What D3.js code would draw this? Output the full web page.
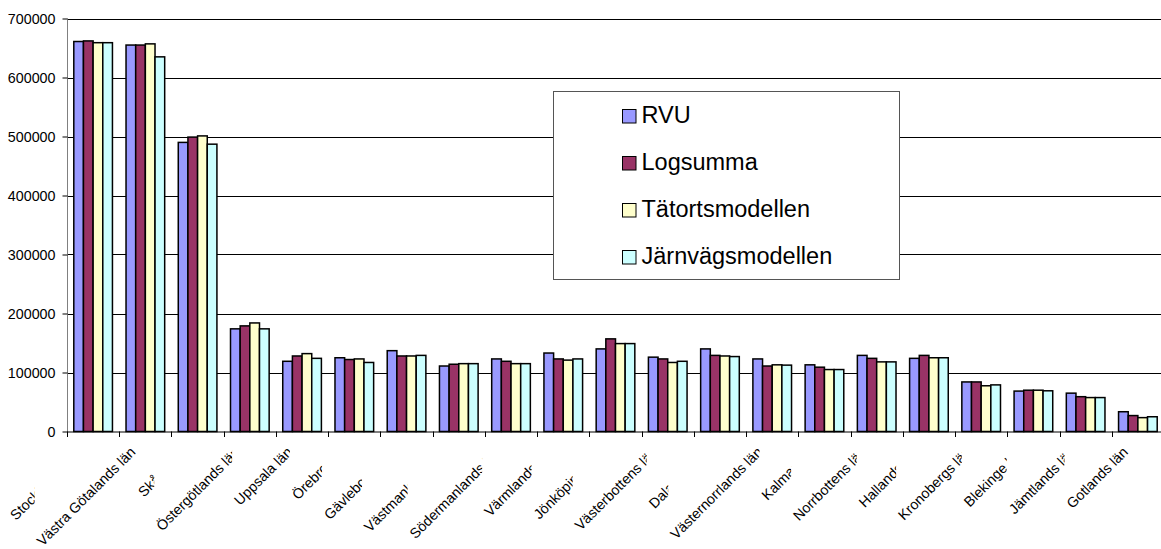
<!DOCTYPE html>
<html>
<head>
<meta charset="utf-8">
<script src="https://cdn.jsdelivr.net/npm/d3@7"></script>
<style>
  html, body { margin: 0; padding: 0; background: #fff; }
  svg { display: block; font-family: "Liberation Sans", Arial, sans-serif; }
</style>
</head>
<body>
<svg id="chart" width="1161" height="549"></svg>
<script>
const categories = ["Stockholms län", "Västra Götalands län", "Skåne län", "Östergötlands län", "Uppsala län",
  "Örebro län", "Gävleborgs län", "Västmanlands län", "Södermanlands län", "Värmlands län",
  "Jönköpings län", "Västerbottens län", "Dalarnas län", "Västernorrlands län", "Kalmar län",
  "Norrbottens län", "Hallands län", "Kronobergs län", "Blekinge län", "Jämtlands län", "Gotlands län"];
const seriesNames = ["RVU", "Logsumma", "Tätortsmodellen", "Järnvägsmodellen"];
const rvu      = [661000, 655000, 490000, 174000, 119000, 125000, 137000, 111000, 123000, 133000, 140000, 126000, 140000, 123000, 113000, 129000, 124000, 84000, 68500, 65000, 33500];
const logsumma = [662000, 655000, 499000, 179000, 128000, 122000, 128000, 114000, 119000, 123000, 157000, 123000, 129000, 111000, 109000, 124000, 129000, 84000, 70000, 59000, 27000];
const tatort   = [659000, 657000, 501000, 184000, 132000, 123000, 128000, 115000, 115000, 121000, 149000, 117000, 128000, 113000, 105000, 118000, 125000, 77500, 70000, 57500, 23500];
const jarnvag  = [659000, 635000, 487000, 174000, 124000, 117000, 129000, 115000, 115000, 123000, 149000, 119000, 127000, 112500, 105000, 118000, 125000, 79000, 69000, 57500, 25000];
const yTicks = [0, 100000, 200000, 300000, 400000, 500000, 600000, 700000];

const seriesValues = [rvu, logsumma, tatort, jarnvag];
const colors = ["#9999FF", "#993366", "#FFFFCC", "#CCFFFF"];

(function () {
const svg = d3.select("#chart");
const pLeft = 67, pRight = 1164, pTop = 18.5, pBottom = 431.5;

const x0 = d3.scaleBand().domain(categories).range([pLeft, pRight]).paddingInner(0.26).paddingOuter(0.13);
const x1 = d3.scaleBand().domain(seriesNames).range([0, x0.bandwidth()]);
const y = d3.scaleLinear().domain([0, 700000]).range([pBottom, pTop]);

// gridlines
svg.append("g").selectAll("line").data(yTicks.filter(d => d > 0)).join("line")
  .attr("x1", pLeft).attr("x2", 1161)
  .attr("y1", d => Math.round(y(d)) + 0.5).attr("y2", d => Math.round(y(d)) + 0.5)
  .attr("stroke", "#000").attr("stroke-width", 1);

// y axis
const yAxis = d3.axisLeft(y).tickValues(yTicks).tickSize(5).tickPadding(7).tickFormat(d3.format("d"));
const yg = svg.append("g").attr("transform", `translate(${pLeft + 0.5},0)`).call(yAxis);
yg.select(".domain").attr("stroke", "#808080").attr("d", `M0,${pTop}V${pBottom}`);
yg.selectAll(".tick line").attr("stroke", "#000");
yg.selectAll(".tick text").attr("font-size", 14.3).attr("fill", "#000")
  .attr("font-family", "'Liberation Sans', Arial, sans-serif");

// bars
const groups = svg.append("g").selectAll("g").data(categories).join("g")
  .attr("transform", d => `translate(${x0(d)},0)`);
groups.selectAll("rect").data((d, i) => seriesNames.map((s, j) => ({ s, j, v: seriesValues[j][i] })))
  .join("rect")
  .attr("x", d => x1(d.s))
  .attr("width", x1.bandwidth())
  .attr("y", d => y(d.v))
  .attr("height", d => y(0) - y(d.v))
  .attr("fill", d => colors[d.j])
  .attr("stroke", "#000").attr("stroke-width", 1.5);

// x axis line and ticks at category boundaries
svg.append("line").attr("x1", pLeft).attr("x2", 1161)
  .attr("y1", pBottom + 0.5).attr("y2", pBottom + 0.5).attr("stroke", "#000").attr("stroke-width", 1.2);
const boundaries = d3.range(categories.length + 1).map(i => pLeft + i * x0.step());
svg.append("g").selectAll("line").data(boundaries).join("line")
  .attr("x1", d => Math.round(d) + 0.5).attr("x2", d => Math.round(d) + 0.5)
  .attr("y1", pBottom).attr("y2", pBottom + 5.5)
  .attr("stroke", "#000").attr("stroke-width", 1);

// x labels: each later label has an opaque box that hides the overlapped end of the previous one
const lab = svg.append("g");
categories.forEach((c, i) => {
  const cx = x0(c) + x0.bandwidth() / 2;
  const ax = cx - 9, ay = 453;
  const g = lab.append("g");
  const rect = g.append("rect").attr("fill", "#fff");
  const t = g.append("text")
    .attr("transform", `translate(${ax},${ay}) rotate(-45)`)
    .attr("text-anchor", "end")
    .attr("font-size", 14.2).attr("fill", "#000")
    .text(c);
  const L = t.node().getComputedTextLength();
  const sx = ax - L * Math.SQRT1_2;
  rect.attr("x", sx - 8).attr("y", ay - 11)
    .attr("width", ax + 3 - (sx - 8)).attr("height", L * Math.SQRT1_2 + 16);
});

// legend
const lgX = 553, lgY = 91, lgW = 346, lgH = 188;
const lg = svg.append("g");
lg.append("rect").attr("x", lgX + 0.5).attr("y", lgY + 0.5).attr("width", lgW).attr("height", lgH)
  .attr("fill", "#fff").attr("stroke", "#555").attr("stroke-width", 1);
const items = lg.selectAll("g").data(seriesNames).join("g")
  .attr("transform", (d, i) => `translate(622.5,${109.5 + i * 47})`);
items.append("rect").attr("width", 13.5).attr("height", 13.5)
  .attr("fill", (d, i) => colors[i]).attr("stroke", "#000").attr("stroke-width", 1);
items.append("text").attr("x", 19).attr("y", 13.2)
  .attr("font-size", 23.5).attr("fill", "#000").text(d => d);
})();
</script>
</body>
</html>
